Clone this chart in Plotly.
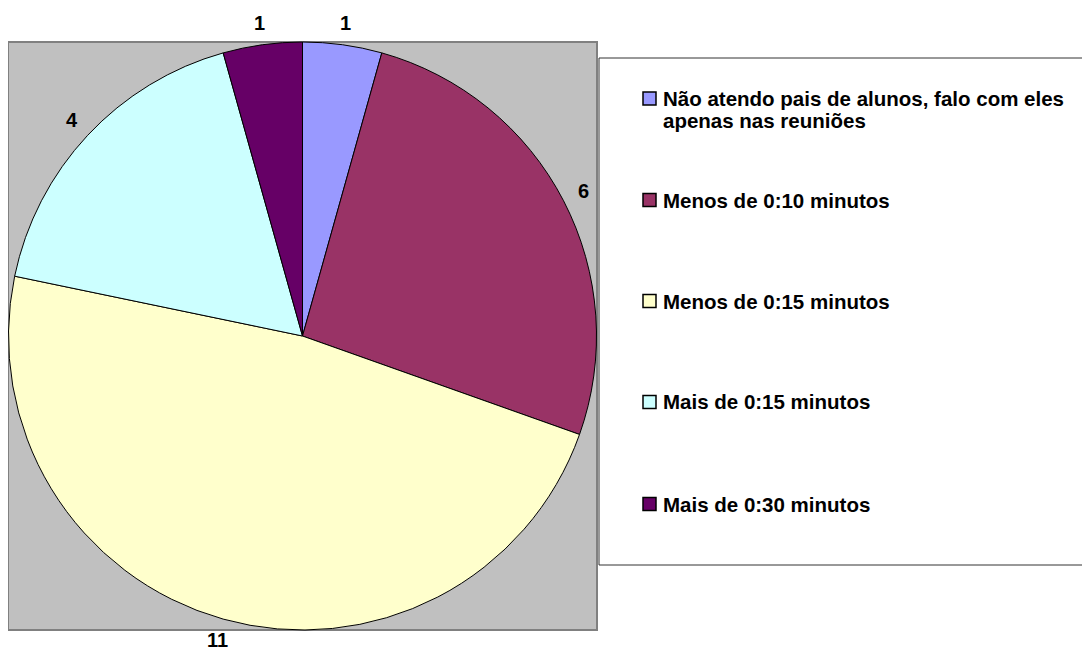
import math
import textwrap
import plotly.graph_objects as go

# ---- data ----
categories = [
    "Não atendo pais de alunos, falo com eles apenas nas reuniões",
    "Menos de 0:10 minutos",
    "Menos de 0:15 minutos",
    "Mais de 0:15 minutos",
    "Mais de 0:30 minutos",
]
values = [1, 6, 11, 4, 1]
colors = ["#9999FF", "#993366", "#FFFFCC", "#CCFFFF", "#660066"]

# ---- layout geometry (screen pixels; page body has an 8px margin) ----
W, H = 1090, 652
OFF = 8
FONT = "Arial, 'Liberation Sans', sans-serif"
FS = 20

def px(x):
    return (x - OFF) / W

def py(y):
    return 1 - (y - OFF) / H

plot_left, plot_right, plot_top, plot_bottom = 8, 597, 42, 630
cx = (plot_left + plot_right) / 2
cy = (plot_top + plot_bottom) / 2
label_r = 316

fig = go.Figure()
fig.add_trace(go.Pie(
    labels=categories,
    values=values,
    sort=False,
    direction="clockwise",
    rotation=0,
    textinfo="none",
    hoverinfo="label+value",
    marker=dict(colors=colors, line=dict(color="black", width=1)),
    domain=dict(x=[px(plot_left), px(plot_right)], y=[py(plot_bottom), py(plot_top)]),
    showlegend=False,
))

shapes = []
annotations = []

# gray plot area
shapes.append(dict(type="rect", xref="paper", yref="paper", layer="below",
                   x0=px(plot_left), x1=px(plot_right), y0=py(plot_bottom), y1=py(plot_top),
                   fillcolor="#C0C0C0", line=dict(color="#808080", width=2)))

# data labels, placed at mid-angle of each slice
total = sum(values)
cum = 0
for v in values:
    mid = (cum + v / 2) / total
    cum += v
    th = 2 * math.pi * mid
    lx = cx + label_r * math.sin(th)
    ly = cy - label_r * math.cos(th)
    annotations.append(dict(xref="paper", yref="paper", x=px(lx), y=py(ly),
                            text=str(v), showarrow=False, xanchor="center", yanchor="middle",
                            font=dict(family=FONT, size=FS, color="black", weight="bold")))

# custom legend
shapes.append(dict(type="rect", xref="paper", yref="paper", layer="below",
                   x0=px(599), x1=px(1110), y0=py(565), y1=py(58),
                   fillcolor="white", line=dict(color="#333333", width=1)))
item_y = [98.5, 200, 301, 402, 504]
line_gap = 22
for cat, col, yc in zip(categories, colors, item_y):
    shapes.append(dict(type="rect", xref="paper", yref="paper",
                       x0=px(643), x1=px(656), y0=py(yc + 6.5), y1=py(yc - 6.5),
                       fillcolor=col, line=dict(color="black", width=1.5)))
    for i, line in enumerate(textwrap.wrap(cat, 40)):
        annotations.append(dict(xref="paper", yref="paper", x=px(661), y=py(yc + i * line_gap),
                                text=line, showarrow=False, xanchor="left", yanchor="middle",
                                font=dict(family=FONT, size=FS + 0.5, color="black", weight="bold")))

fig.update_layout(
    width=W, height=H,
    margin=dict(l=0, r=0, t=0, b=0),
    paper_bgcolor="white",
    plot_bgcolor="white",
    shapes=shapes,
    annotations=annotations,
    showlegend=False,
)

fig.write_html("out.html")
